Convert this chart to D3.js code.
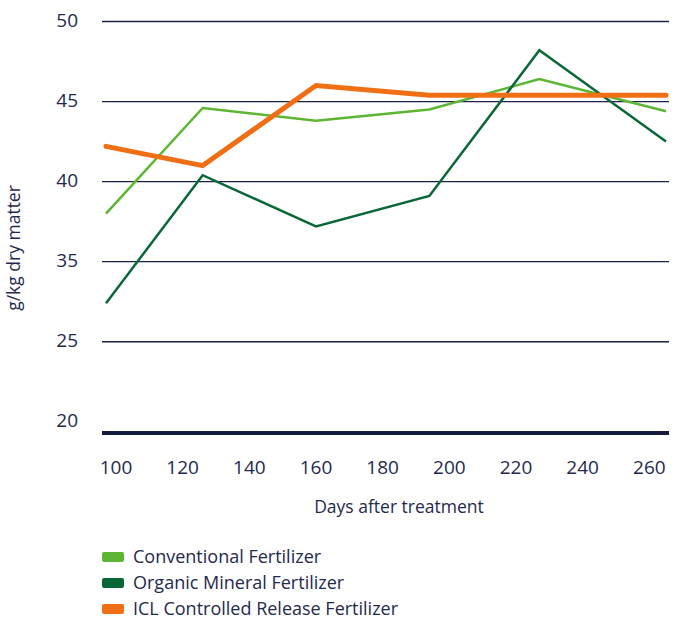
<!DOCTYPE html>
<html>
  <head>
    <meta charset="UTF-8">
    <script src="https://d3js.org/d3.v7.min.js"></script>
    <style>
        body {
            margin: 0;
            background: #fff;
        }
        * {
            font-family: 'Open Sans', sans-serif;
        }
        .tickLabel {
            fill: #1f2a4d;
            font-size: 19px;
        }
        .axisTitle {
            fill: #1f2a4d;
            font-size: 17.5px;
        }
        .yTitle {
            fill: #1f2a4d;
            font-size: 17.5px;
        }
        .legendLabel {
            fill: #1f2a4d;
            font-size: 18px;
        }
    </style>
  </head>
  <body>
    <script>
        // days after treatment (estimated from the point positions)
        const days = [97, 126, 160, 194, 227, 265]
        const conventional = [38.0, 44.6, 43.8, 44.5, 46.4, 44.4]
        const organicMineral = [32.4, 40.4, 37.2, 39.1, 48.2, 42.5]
        const iclControlled = [42.2, 41.0, 46.0, 45.4, 45.4, 45.4]

        const seriesNames = ['Conventional Fertilizer', 'Organic Mineral Fertilizer', 'ICL Controlled Release Fertilizer']
        const seriesColors = ['#5db633', '#0a6836', '#f06e14']
        const seriesWidths = [2.5, 2.5, 5]

        const xTicks = [100, 120, 140, 160, 180, 200, 220, 240, 260]
        // the original labels skip 30, so tick values and texts are kept apart
        const yTicks = [50, 45, 40, 35, 30, 25]
        const yTickLabels = ['50', '45', '40', '35', '25', '20']

        let svgWidth = 682, svgHeight = 621
        let plotLeft = 102, plotRight = 669

        let svg = d3.select('body').append('svg')
            .attr('width', svgWidth)
            .attr('height', svgHeight)

        let x = d3.scaleLinear().domain([97, 265]).range([106, 666])
        let y = d3.scaleLinear().domain([24.3, 50]).range([433, 21.5])

        // gridlines (not for the lowest tick, the baseline sits below it)
        svg.append('g')
            .selectAll('line')
            .data(yTicks.slice(0, 5))
            .enter()
            .append('line')
            .attr('x1', plotLeft)
            .attr('x2', plotRight)
            .attr('y1', d => y(d))
            .attr('y2', d => y(d))
            .attr('stroke', '#1a2147')
            .attr('stroke-width', 1.3)

        // thick baseline
        svg.append('line')
            .attr('x1', plotLeft)
            .attr('x2', plotRight)
            .attr('y1', y(24.3))
            .attr('y2', y(24.3))
            .attr('stroke', '#141a3d')
            .attr('stroke-width', 4)

        svg.append('g')
            .selectAll('text')
            .data(yTicks)
            .enter()
            .append('text')
            .attr('class', 'tickLabel')
            .attr('x', 78)
            .attr('y', d => y(d) - 1)
            .attr('dy', '0.35em')
            .attr('text-anchor', 'end')
            .text((d, i) => yTickLabels[i])

        svg.append('g')
            .selectAll('text')
            .data(xTicks)
            .enter()
            .append('text')
            .attr('class', 'tickLabel')
            .attr('x', d => x(d))
            .attr('y', 474)
            .attr('text-anchor', 'middle')
            .text(d => d)

        svg.append('text')
            .attr('class', 'axisTitle')
            .attr('x', 399)
            .attr('y', 513)
            .attr('text-anchor', 'middle')
            .text('Days after treatment')

        svg.append('text')
            .attr('class', 'yTitle')
            .attr('transform', 'translate(20, 248) rotate(-90)')
            .attr('text-anchor', 'middle')
            .text('g/kg dry matter')

        let line = d3.line()
            .x((d, i) => x(days[i]))
            .y(d => y(d))

        let allSeries = [conventional, organicMineral, iclControlled]

        svg.append('g')
            .selectAll('path')
            .data(allSeries)
            .enter()
            .append('path')
            .attr('d', d => line(d))
            .attr('fill', 'none')
            .attr('stroke', (d, i) => seriesColors[i])
            .attr('stroke-width', (d, i) => seriesWidths[i])
            .attr('stroke-linejoin', 'miter')
            .attr('stroke-linecap', (d, i) => i === 2 ? 'round' : 'butt')

        let legend = svg.append('g')
            .selectAll('g')
            .data(seriesNames)
            .enter()
            .append('g')
            .attr('transform', (d, i) => `translate(102, ${557 + i * 26})`)

        legend.append('rect')
            .attr('x', 0)
            .attr('y', -5)
            .attr('width', 22)
            .attr('height', 10)
            .attr('rx', 2)
            .attr('fill', (d, i) => seriesColors[i])

        legend.append('text')
            .attr('class', 'legendLabel')
            .attr('x', 31)
            .attr('dy', '0.35em')
            .text(d => d)
    </script>
  </body>
</html>
